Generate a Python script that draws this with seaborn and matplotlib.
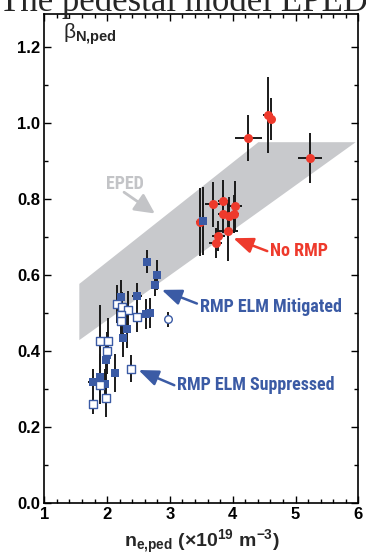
import numpy as np
import pandas as pd
import seaborn as sns
import matplotlib.pyplot as plt

# No RMP (red circles)
norm_x = [4.25, 4.56, 4.61, 5.23, 3.48, 3.68, 3.85, 4.03, 3.84, 3.94, 4.02, 3.92, 3.77, 3.73]
norm_y = [0.96, 1.02, 1.01, 0.907, 0.74, 0.786, 0.795, 0.782, 0.76, 0.756, 0.76, 0.717, 0.703, 0.685]
norm_xerr = [0.21, 0.08, 0.07, 0.19, 0.06, 0.12, 0.08, 0.12, 0.08, 0.08, 0.08, 0.17, 0.1, 0.1]
norm_yerr = [0.06, 0.10, 0.055, 0.066, 0.09, 0.06, 0.055, 0.065, 0.05, 0.05, 0.05, 0.08, 0.04, 0.04]

# RMP ELM mitigated (filled blue squares)
mit_x = [3.52, 2.63, 2.79, 2.76, 2.22, 2.47, 2.62, 2.68, 2.32, 2.26, 1.98, 2.13, 1.89, 1.77, 1.96, 2.0]
mit_y = [0.743, 0.635, 0.60, 0.575, 0.541, 0.545, 0.497, 0.50, 0.457, 0.435, 0.376, 0.343, 0.331, 0.318, 0.312, 0.39]
mit_xerr = [0.07, 0.02, 0.02, 0.02, 0.03, 0.08, 0.1, 0.03, 0.03, 0.03, 0.03, 0.03, 0.03, 0.08, 0.03, 0.03]
mit_yerr = [0.09, 0.03, 0.04, 0.03, 0.045, 0.035, 0.04, 0.04, 0.05, 0.05, 0.05, 0.05, 0.06, 0.035, 0.04, 0.05]

# RMP ELM suppressed (open squares)
sup_x = [2.16, 2.23, 2.34, 2.22, 2.22, 2.48, 1.88, 2.02, 2.0, 2.38, 1.89, 1.98, 1.77]
sup_y = [0.525, 0.515, 0.508, 0.495, 0.48, 0.49, 0.427, 0.427, 0.40, 0.354, 0.31, 0.277, 0.26]
sup_xerr = [0.02] * 13
sup_yerr = [0.05, 0.04, 0.05, 0.04, 0.04, 0.04, 0.095, 0.06, 0.05, 0.035, 0.05, 0.05, 0.025]

# single open circle
oc_x = [2.97]
oc_y = [0.484]

# EPED prediction band
band_x = [1.55, 4.4, 5.95]
band_lo = [0.43, 0.767, 0.951]
band_hi = [0.578, 0.951, 0.951]

RED = '#ee3a2c'
BLUE = '#3b5ba5'
GRAY = '#c8c9cc'

sns.set_style('ticks')
plt.rcParams['font.family'] = ['Liberation Sans', 'DejaVu Sans']
plt.rcParams['mathtext.fontset'] = 'custom'
plt.rcParams['mathtext.rm'] = 'Liberation Sans'
plt.rcParams['mathtext.bf'] = 'Liberation Sans:bold'
plt.rcParams['mathtext.it'] = 'Liberation Sans:italic'

fig = plt.figure(figsize=(3.66, 5.55), dpi=100)
ax = fig.add_axes([0.121, 0.0937, 0.858, 0.881])

ax.fill_between(band_x, band_lo, band_hi, color=GRAY, lw=0, zorder=1)

ekw = dict(fmt='none', ecolor='#1a1a1a', elinewidth=1.4, capsize=0, zorder=2)
ax.errorbar(norm_x, norm_y, xerr=norm_xerr, yerr=norm_yerr, **ekw)
ax.errorbar(mit_x, mit_y, xerr=mit_xerr, yerr=mit_yerr, **ekw)
ax.errorbar(sup_x, sup_y, xerr=sup_xerr, yerr=sup_yerr, **ekw)
ax.errorbar(oc_x, oc_y, xerr=[0.04], yerr=[0.02], **ekw)

sns.scatterplot(x=norm_x, y=norm_y, marker='o', s=42, color=RED, linewidth=0, ax=ax, zorder=3)
sns.scatterplot(x=mit_x, y=mit_y, marker='s', s=34, color=BLUE, linewidth=0, ax=ax, zorder=4)
sns.scatterplot(x=sup_x, y=sup_y, marker='s', s=26, color='white', edgecolor=BLUE, linewidth=1, ax=ax, zorder=4)
sns.scatterplot(x=oc_x, y=oc_y, marker='o', s=30, color='white', edgecolor=BLUE, linewidth=1, ax=ax, zorder=4)

tfont = dict(fontsize=13, fontweight='bold', family=['Roboto Condensed', 'Liberation Sans'])
akw = dict(mutation_scale=12, shrinkA=0, shrinkB=0)
ax.text(2.28, 0.84, 'EPED', color='#c3c4c7', ha='center', va='center', **tfont)
ax.annotate('', xy=(2.76, 0.762), xytext=(2.27, 0.818),
            arrowprops=dict(arrowstyle='-|>,head_length=1.0,head_width=0.5', lw=2, color='#c3c4c7', **akw))
ax.text(4.59, 0.662, 'No RMP', color=RED, ha='left', va='center', **tfont)
ax.annotate('', xy=(4.01, 0.697), xytext=(4.55, 0.663),
            arrowprops=dict(arrowstyle='-|>,head_length=1.0,head_width=0.4', lw=1.8, color=RED, **akw))
ax.text(3.48, 0.517, 'RMP ELM Mitigated', color=BLUE, ha='left', va='center', **tfont)
ax.annotate('', xy=(2.87, 0.561), xytext=(3.43, 0.525),
            arrowprops=dict(arrowstyle='-|>,head_length=1.0,head_width=0.4', lw=1.8, color=BLUE, **akw))
ax.text(3.11, 0.31, 'RMP ELM Suppressed', color=BLUE, ha='left', va='center', **tfont)
ax.annotate('', xy=(2.50, 0.35), xytext=(3.07, 0.31),
            arrowprops=dict(arrowstyle='-|>,head_length=1.0,head_width=0.4', lw=1.8, color=BLUE, **akw))

ax.text(1.3, 1.235, r'$\mathrm{\beta}_{\mathbf{N{,}ped}}$', fontsize=15, ha='left', va='center')

ax.set_xlim(1, 6)
ax.set_ylim(0, 1.287)
ax.set_xticks([1, 2, 3, 4, 5, 6])
ax.set_yticks([0.0, 0.2, 0.4, 0.6, 0.8, 1.0, 1.2])
ax.set_yticklabels(['0.0', '0.2', '0.4', '0.6', '0.8', '1.0', '1.2'])
ax.set_xticks(np.arange(1, 6.01, 0.2), minor=True)
ax.set_yticks(np.arange(0, 1.29, 0.1), minor=True)
ax.tick_params(which='both', direction='in', top=True, right=True, width=1, colors='black')
ax.tick_params(which='major', length=5, labelsize=12, pad=3)
ax.tick_params(which='minor', length=3)
for lab in ax.get_xticklabels() + ax.get_yticklabels():
    lab.set_fontweight('bold')
for sp in ax.spines.values():
    sp.set_linewidth(1.2)
    sp.set_color('black')

ax.set_xlabel(r'$\mathbf{n_{e{,}ped}}$ $\mathbf{(\times 10^{19}\ m^{-3})}$', fontsize=14, labelpad=4)
ax.set_ylabel('')

fig.text(1.005, 1 - 11 / 555, 'The pedestal model EPED', family='Liberation Serif', fontsize=25,
         ha='right', va='baseline')

fig.savefig('out.png', dpi=100)
